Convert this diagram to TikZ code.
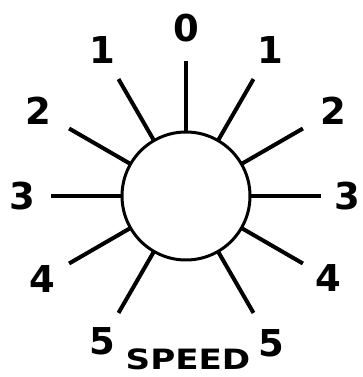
\documentclass[tikz,border=0pt]{standalone}
\usepackage{fontspec}
\setmainfont{DejaVu Sans}
\usepackage{tikz}

\begin{document}
\begin{tikzpicture}[
    x=1pt, y=1pt,
    dial/.style={draw, circle, line width=3pt, minimum size=128pt, inner sep=0pt, outer sep=0pt},
    tick/.style={draw, line width=4pt},
    digit/.style={font=\fontsize{37}{37}\bfseries\selectfont, inner sep=0pt},
    caption/.style={font=\fontsize{28}{28}\bfseries\selectfont, inner sep=0pt, xscale=1.22}
]
\useasboundingbox (0,0) rectangle (362,377);

\node[dial] (dial) at (186,181) {};

% outer ends of the ticks
\coordinate (t0) at ([shift={(90:135)}]dial.center);
\coordinate (r1) at ([shift={(60:135)}]dial.center);
\coordinate (r2) at ([shift={(30:135)}]dial.center);
\coordinate (r3) at ([shift={(0:135)}]dial.center);
\coordinate (r4) at ([shift={(-30:135)}]dial.center);
\coordinate (r5) at ([shift={(-60:135)}]dial.center);
\coordinate (l1) at ([shift={(120:135)}]dial.center);
\coordinate (l2) at ([shift={(150:135)}]dial.center);
\coordinate (l3) at ([shift={(180:135)}]dial.center);
\coordinate (l4) at ([shift={(210:135)}]dial.center);
\coordinate (l5) at ([shift={(240:135)}]dial.center);

\draw[tick] (dial.90) -- (t0);
\draw[tick] (dial.60) -- (r1);
\draw[tick] (dial.30) -- (r2);
\draw[tick] (dial.0) -- (r3);
\draw[tick] (dial.-30) -- (r4);
\draw[tick] (dial.-60) -- (r5);
\draw[tick] (dial.120) -- (l1);
\draw[tick] (dial.150) -- (l2);
\draw[tick] (dial.180) -- (l3);
\draw[tick] (dial.210) -- (l4);
\draw[tick] (dial.240) -- (l5);

% speed numbers
\node[digit] (n0) at ([shift={(90:168)}]dial.center) {0};
\node[digit] (nr1) at ([shift={(60:168)}]dial.center) {1};
\node[digit] (nr2) at ([shift={(30:170)}]dial.center) {2};
\node[digit] (nr3) at ([shift={(0:161)}]dial.center) {3};
\node[digit] (nr4) at ([shift={(-30:164)}]dial.center) {4};
\node[digit] (nr5) at ([shift={(-60:170)}]dial.center) {5};
\node[digit] (nl1) at ([shift={(120:168)}]dial.center) {1};
\node[digit] (nl2) at ([shift={(150:170)}]dial.center) {2};
\node[digit] (nl3) at ([shift={(180:164)}]dial.center) {3};
\node[digit] (nl4) at ([shift={(210:166)}]dial.center) {4};
\node[digit] (nl5) at ([shift={(240:168)}]dial.center) {5};

\node[caption, anchor=base] (speed) at (188,7) {SPEED};

\end{tikzpicture}
\end{document}
